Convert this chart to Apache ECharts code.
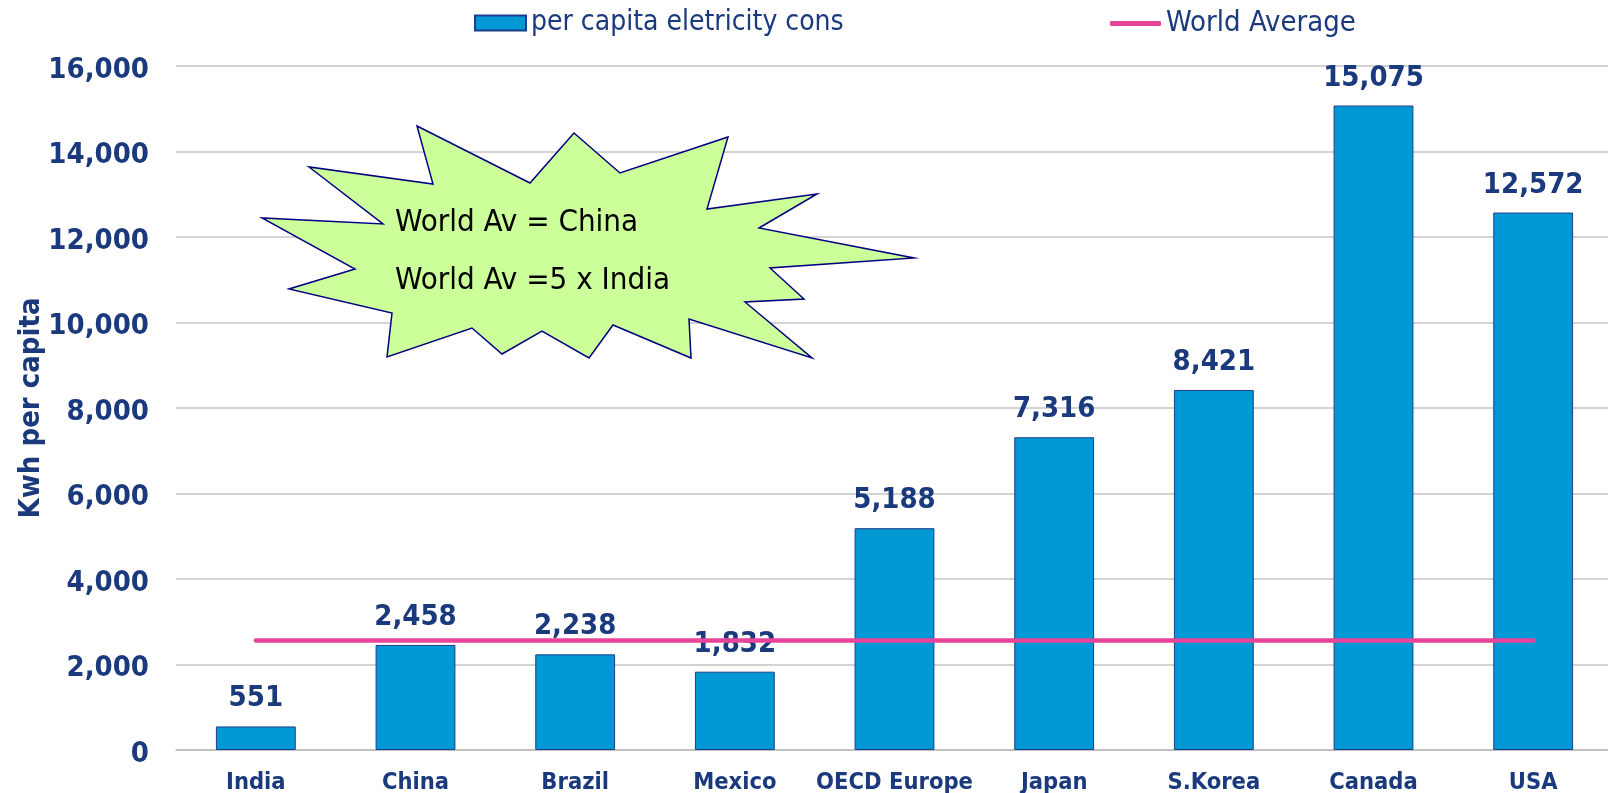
<!DOCTYPE html>
<html>
<head>
<meta charset="utf-8">
<script src="https://cdn.jsdelivr.net/npm/echarts@6/dist/echarts.min.js"></script>
<style>
  html, body { margin: 0; padding: 0; background: #fff; }
  #chart { width: 1608px; height: 793px; }
</style>
</head>
<body>
<div id="chart"></div>
<script>
var countries = ["India", "China", "Brazil", "Mexico", "OECD Europe", "Japan", "S.Korea", "Canada", "USA"];
var perCapita = [551, 2458, 2238, 1832, 5188, 7316, 8421, 15075, 12572];
var worldAvg = [2560, 2560, 2560, 2560, 2560, 2560, 2560, 2560, 2560];
var calloutLines = ["World Av = China", "World Av =5 x India"];

var navy = "#1B3A7E";
var font = "'DejaVu Sans Condensed', 'DejaVu Sans', sans-serif";

// starburst outline, in pixels
var burst = [
  [417, 126], [530, 183], [574, 133], [620, 173], [728, 137], [707, 209],
  [817, 194], [759, 228], [914, 258], [770, 268], [804, 299], [745, 302],
  [812, 358], [689, 319], [691, 358], [613, 325], [589, 358], [542, 331],
  [502, 354], [472, 328], [387, 357], [392, 313], [289, 289], [355, 269],
  [262, 218], [383, 224], [309, 167], [433, 184]
];

var myChart = echarts.init(document.getElementById("chart"));

var option = {
  animation: false,
  textStyle: { fontFamily: font },
  legend: [
    {
      left: 469,
      top: 4,
      itemWidth: 51,
      itemHeight: 15,
      icon: "rect",
      textStyle: { color: navy, fontSize: 28, fontFamily: font },
      data: ["per capita eletricity cons"]
    },
    {
      left: 1105,
      top: 4,
      itemWidth: 51,
      itemHeight: 5,
      icon: "roundRect",
      textStyle: { color: navy, fontSize: 29, fontFamily: font },
      data: ["World Average"]
    }
  ],
  grid: { left: 176, width: 1437, top: 66, bottom: 43, outerBoundsMode: "none" },
  xAxis: {
    type: "category",
    data: countries,
    axisTick: { show: false },
    axisLine: { lineStyle: { color: "#BDBDBD", width: 1.5 } },
    axisLabel: {
      color: navy,
      fontSize: 23.5,
      fontWeight: "bold",
      fontFamily: font,
      margin: 21,
      interval: 0
    }
  },
  yAxis: {
    type: "value",
    min: 0,
    max: 16000,
    interval: 2000,
    name: "Kwh per capita",
    nameLocation: "middle",
    nameGap: 130,
    nameMoveOverlap: false,
    nameTextStyle: { color: navy, fontSize: 29, fontWeight: "bold", fontFamily: font },
    axisLabel: {
      margin: 27,
      formatter: function (v) { return "{t|" + v.toLocaleString("en-US") + "}"; },
      rich: {
        t: {
          color: navy,
          fontSize: 29,
          fontWeight: "bold",
          fontFamily: font,
          padding: [8, 0, 0, 0]
        }
      }
    },
    splitLine: { lineStyle: { color: "#C4C4C4", width: 1.5 } }
  },
  series: [
    {
      name: "per capita eletricity cons",
      type: "bar",
      data: perCapita,
      barWidth: "50%",
      itemStyle: { color: "#0099D6", borderColor: "#1F3C88", borderWidth: 1 },
      label: {
        show: true,
        position: "top",
        distance: 13,
        color: navy,
        fontSize: 29,
        fontWeight: "bold",
        fontFamily: font,
        formatter: function (p) { return p.value.toLocaleString("en-US"); }
      }
    },
    {
      name: "World Average",
      type: "line",
      data: worldAvg,
      symbol: "none",
      z: 5,
      lineStyle: { color: "#E8449A", width: 4.5, cap: "round" },
      itemStyle: { color: "#E8449A" }
    }
  ],
  graphic: [
    {
      type: "polygon",
      z: 50,
      shape: { points: burst },
      style: { fill: "#CCFF99", stroke: "#000080", lineWidth: 1.5 }
    },
    {
      type: "text",
      z: 51,
      x: 395,
      y: 223,
      style: { text: calloutLines[0], fill: "#000", font: "31px " + font, verticalAlign: "middle" }
    },
    {
      type: "text",
      z: 51,
      x: 395,
      y: 281,
      style: { text: calloutLines[1], fill: "#000", font: "31px " + font, verticalAlign: "middle" }
    }
  ]
};

myChart.setOption(option);
</script>
</body>
</html>
